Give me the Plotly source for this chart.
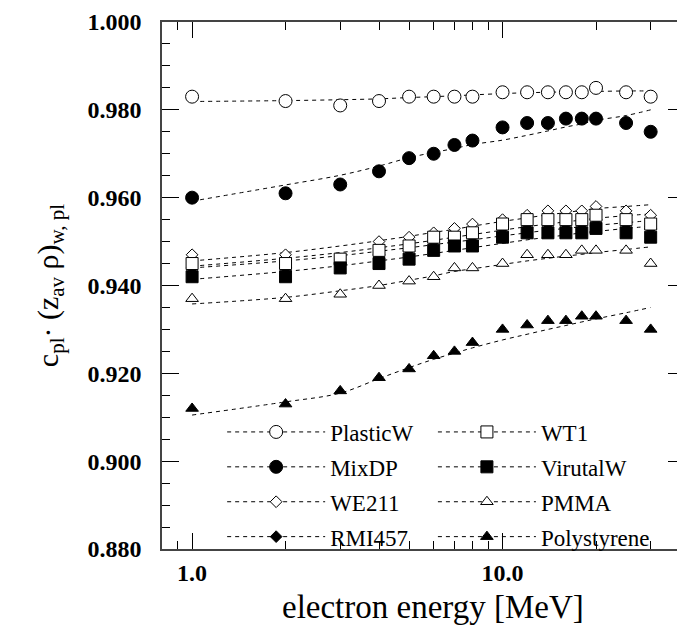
import math
import plotly.graph_objects as go

# ---- data ----
energy = [1, 2, 3, 4, 5, 6, 7, 8, 10, 12, 14, 16, 18, 20, 25, 30]

plasticw = [0.983, 0.982, 0.981, 0.982, 0.983, 0.983, 0.983, 0.983, 0.984, 0.984, 0.984, 0.984, 0.984, 0.985, 0.984, 0.983]
mixdp = [0.960, 0.961, 0.963, 0.966, 0.969, 0.970, 0.972, 0.973, 0.976, 0.977, 0.977, 0.978, 0.978, 0.978, 0.977, 0.975]
we211 = [0.947, 0.947, 0.946, 0.950, 0.951, 0.952, 0.953, 0.954, 0.955, 0.956, 0.957, 0.957, 0.957, 0.958, 0.957, 0.956]
rmi457 = [0.944, 0.944, 0.945, 0.947, 0.948, 0.950, 0.950, 0.951, 0.953, 0.954, 0.954, 0.954, 0.954, 0.955, 0.954, 0.953]
wt1 = [0.945, 0.945, 0.946, 0.948, 0.949, 0.951, 0.951, 0.952, 0.954, 0.955, 0.955, 0.955, 0.955, 0.956, 0.955, 0.954]
virutalw = [0.942, 0.942, 0.944, 0.945, 0.946, 0.948, 0.949, 0.949, 0.951, 0.952, 0.952, 0.952, 0.952, 0.953, 0.952, 0.951]
pmma = [0.937, 0.937, 0.938, 0.940, 0.941, 0.942, 0.944, 0.944, 0.945, 0.947, 0.947, 0.947, 0.948, 0.948, 0.948, 0.945]
polystyrene = [0.912, 0.913, 0.916, 0.919, 0.921, 0.924, 0.925, 0.927, 0.930, 0.931, 0.932, 0.932, 0.933, 0.933, 0.932, 0.930]

# fitted (dashed) curves, read at the same energies
plasticw_fit = [0.9819, 0.9821, 0.9823, 0.9825, 0.9828, 0.9830, 0.9832, 0.9834, 0.9837, 0.9839, 0.9840, 0.9841, 0.9842, 0.9842, 0.9843, 0.9843]
mixdp_fit = [0.9592, 0.9629, 0.9651, 0.9672, 0.9691, 0.9703, 0.9712, 0.9721, 0.9731, 0.9742, 0.9752, 0.9761, 0.9768, 0.9776, 0.9787, 0.9800]
we211_fit = [0.9456, 0.9475, 0.9490, 0.9502, 0.9512, 0.9521, 0.9528, 0.9535, 0.9546, 0.9554, 0.9561, 0.9566, 0.9571, 0.9575, 0.9580, 0.9584]
rmi457_fit = [0.9440, 0.9456, 0.9468, 0.9478, 0.9486, 0.9493, 0.9499, 0.9504, 0.9513, 0.9520, 0.9526, 0.9530, 0.9534, 0.9537, 0.9543, 0.9548]
wt1_fit = [0.9444, 0.9462, 0.9475, 0.9486, 0.9495, 0.9503, 0.9510, 0.9516, 0.9526, 0.9534, 0.9540, 0.9545, 0.9549, 0.9553, 0.9559, 0.9563]
virutalw_fit = [0.9414, 0.9432, 0.9445, 0.9456, 0.9465, 0.9473, 0.9480, 0.9486, 0.9496, 0.9504, 0.9510, 0.9515, 0.9520, 0.9523, 0.9530, 0.9535]
pmma_fit = [0.9358, 0.9373, 0.9388, 0.9400, 0.9412, 0.9422, 0.9432, 0.9438, 0.9448, 0.9456, 0.9462, 0.9467, 0.9471, 0.9475, 0.9482, 0.9488]
polystyrene_fit = [0.9105, 0.9135, 0.9155, 0.9188, 0.9213, 0.9232, 0.9246, 0.9258, 0.9276, 0.9289, 0.9300, 0.9309, 0.9317, 0.9324, 0.9338, 0.9350]

x_tickvals = [1, 10]
x_ticktext = ["1.0", "10.0"]
x_minor_ticks = [0.9, 2, 3, 4, 5, 6, 7, 8, 9, 20, 30]
x_title = "electron energy [MeV]"
y_title = "c<sub>pl</sub>· (z<sub>av</sub> ρ)<sub>w, pl</sub>"

# name, values, fit, symbol, fill, size, legend column (drawing order = list order)
series = [
    ("PlasticW", plasticw, plasticw_fit, "circle", "white", 13, "legend"),
    ("MixDP", mixdp, mixdp_fit, "circle", "black", 13, "legend"),
    ("RMI457", rmi457, rmi457_fit, "diamond", "black", 9, "legend"),
    ("WE211", we211, we211_fit, "diamond", "white", 9, "legend"),
    ("WT1", wt1, wt1_fit, "square", "white", 12, "legend2"),
    ("VirutalW", virutalw, virutalw_fit, "square", "black", 12, "legend2"),
    ("PMMA", pmma, pmma_fit, "triangle-up", "white", 11, "legend2"),
    ("Polystyrene", polystyrene, polystyrene_fit, "triangle-up", "black", 11, "legend2"),
]
legend_order = ["PlasticW", "MixDP", "WE211", "RMI457", "WT1", "VirutalW", "PMMA", "Polystyrene"]

SERIF = "Liberation Serif, Times New Roman, serif"
DASH = "4px,4px"

fig = go.Figure()

for name, vals, fit, sym, fill, size, leg in series:
    fig.add_trace(go.Scatter(
        x=energy, y=fit, mode="lines", showlegend=False, hoverinfo="skip",
        line=dict(color="black", width=1, dash=DASH, shape="spline"),
    ))

for name, vals, fit, sym, fill, size, leg in series:
    fig.add_trace(go.Scatter(
        x=energy, y=vals, mode="markers", showlegend=False, name=name,
        marker=dict(symbol=sym, size=size, color=fill, line=dict(color="black", width=1)),
    ))

style = {s[0]: s for s in series}
for name in legend_order:
    _, vals, fit, sym, fill, size, leg = style[name]
    fig.add_trace(go.Scatter(
        x=[None], y=[None], mode="lines+markers", name=name,
        legend=leg, legendgroup=name,
        line=dict(color="black", width=1, dash=DASH),
        marker=dict(symbol=sym, size=size, color=fill, line=dict(color="black", width=1)),
    ))

axis_common = dict(
    showline=True, linecolor="#444", linewidth=1.5, mirror="ticks",
    ticks="inside", tickcolor="black", tickwidth=1,
    showgrid=False, zeroline=False,
    tickfont=dict(family=SERIF, size=24, color="black", weight="bold"),
)

fig.update_xaxes(
    type="log",
    range=[math.log10(0.8), math.log10(38.7)],
    tickmode="array", tickvals=x_tickvals, ticktext=x_ticktext,
    ticklen=16, ticklabelstandoff=1,
    minor=dict(tickmode="array", tickvals=x_minor_ticks, ticks="inside", ticklen=8,
               tickcolor="black", tickwidth=1, showgrid=False),
    **axis_common,
)

fig.update_yaxes(
    range=[0.88, 1.0], tick0=0.88, dtick=0.02, tickformat=".3f",
    ticklen=17, ticklabelstandoff=14,
    minor=dict(dtick=0.005, ticks="inside", ticklen=8.5, tickcolor="black", tickwidth=1, showgrid=False),
    title=dict(text=y_title, font=dict(family=SERIF, size=30, color="black"), standoff=20),
    **axis_common,
)

# x-axis title (placed as annotation so it sits where the reference has it)
fig.add_annotation(
    text=x_title, xref="paper", yref="paper", x=0.518, y=0, yshift=-58,
    xanchor="center", yanchor="middle", showarrow=False,
    font=dict(family=SERIF, size=33, color="black"),
)

legend_common = dict(
    orientation="v", xanchor="left", y=-0.018, yanchor="bottom",
    itemwidth=98, bgcolor="rgba(0,0,0,0)", borderwidth=0,
    font=dict(family=SERIF, size=23, color="black"),
    traceorder="grouped", tracegroupgap=2,
)

fig.update_layout(
    width=677, height=627,
    margin=dict(l=154, r=0, t=13.5, b=86, autoexpand=False),
    paper_bgcolor="white", plot_bgcolor="white",
    showlegend=True,
    legend=dict(x=0.115, **legend_common),
    legend2=dict(x=0.518, **legend_common),
    font=dict(family=SERIF, color="black"),
)

fig.write_html("out.html")
